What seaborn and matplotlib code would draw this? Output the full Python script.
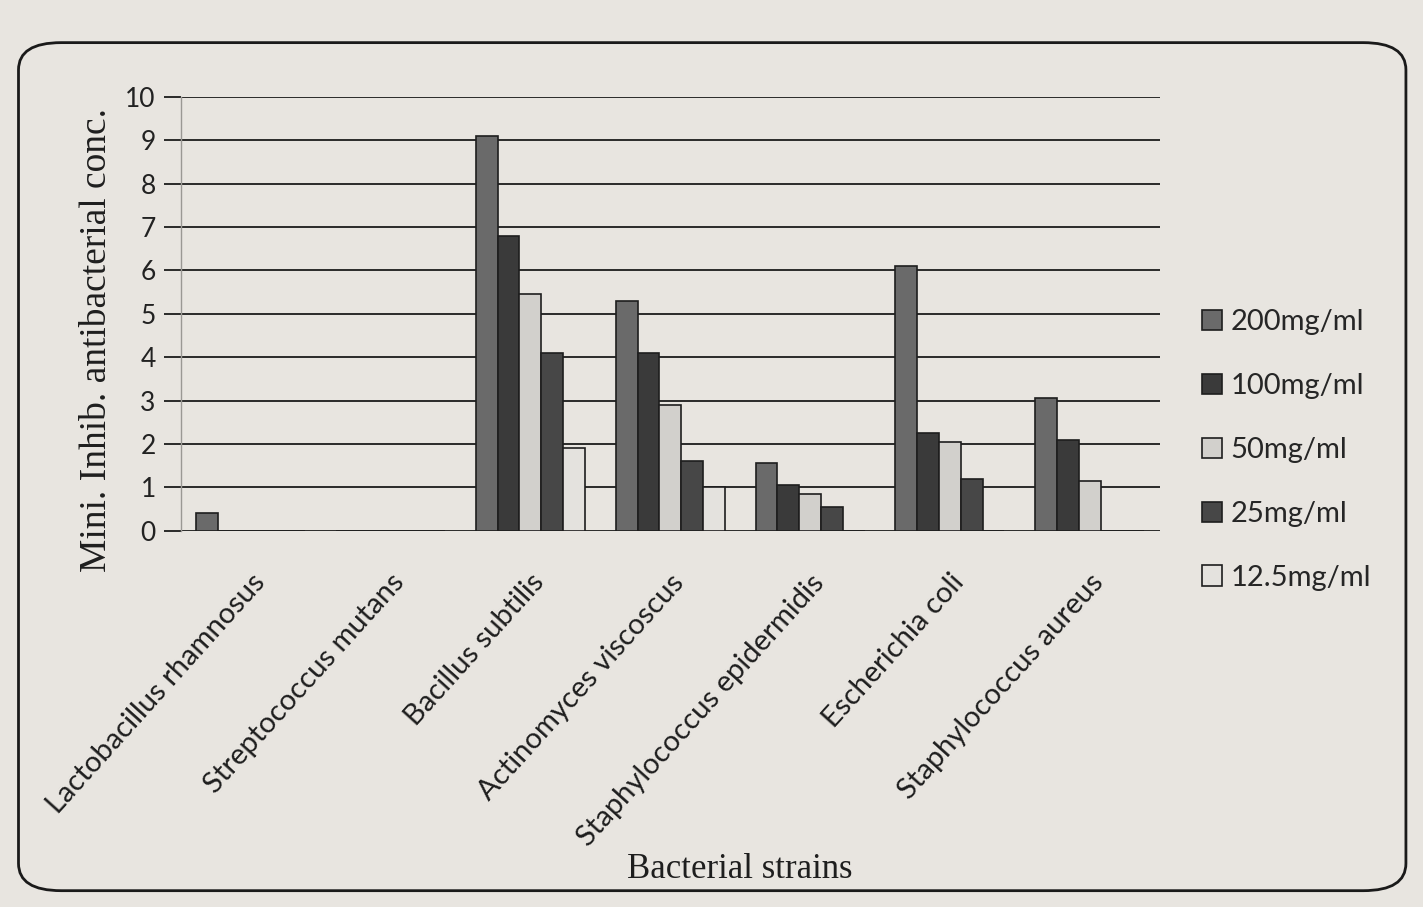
import matplotlib
matplotlib.use("Agg")
import matplotlib.pyplot as plt
from matplotlib.patches import FancyBboxPatch
import pandas as pd
import seaborn as sns

# Bacterial strains on the x axis
strains = [
    "Lactobacillus rhamnosus",
    "Streptococcus mutans",
    "Bacillus subtilis",
    "Actinomyces viscoscus",
    "Staphylococcus epidermidis",
    "Escherichia coli",
    "Staphylococcus aureus",
]

# Extract concentrations (legend entries)
concentrations = ["200mg/ml", "100mg/ml", "50mg/ml", "25mg/ml", "12.5mg/ml"]

# Minimum inhibitory antibacterial concentration per strain, one list per extract concentration
mic_200 = [0.4, 0.0, 9.1, 5.3, 1.55, 6.1, 3.05]
mic_100 = [0.0, 0.0, 6.8, 4.1, 1.05, 2.25, 2.1]
mic_50 = [0.0, 0.0, 5.45, 2.9, 0.85, 2.05, 1.15]
mic_25 = [0.0, 0.0, 4.1, 1.6, 0.55, 1.2, 0.0]
mic_12_5 = [0.0, 0.0, 1.9, 1.0, 0.0, 0.0, 0.0]

y_ticks = list(range(0, 11))

series = [mic_200, mic_100, mic_50, mic_25, mic_12_5]
df = pd.DataFrame(
    [
        {"strain": s, "conc": c, "value": v}
        for c, vals in zip(concentrations, series)
        for s, v in zip(strains, vals)
    ]
)

paper = "#e8e5e0"
bar_colors = ["#6a6a6a", "#3a3a3a", "#d2d0cc", "#474747", "#e4e2de"]

sns.set_theme(style="white")
plt.rcParams["font.family"] = ["Lato", "DejaVu Sans"]

fig = plt.figure(figsize=(14.23, 9.07), dpi=100, facecolor=paper)
ax = fig.add_axes([0.127, 0.415, 0.688, 0.478])
ax.set_facecolor(paper)

sns.barplot(
    data=df, x="strain", y="value", hue="conc",
    hue_order=concentrations, order=strains,
    palette=bar_colors, width=0.78, edgecolor="#1e1e1e", linewidth=1.2,
    saturation=1, errorbar=None, ax=ax,
)

ax.set_ylim(0, 10)
ax.set_yticks(y_ticks)
ax.set_yticklabels([str(t) for t in y_ticks], fontsize=19, color="#222222")
ax.yaxis.grid(True, color="#2a2a2a", linewidth=1.4)
ax.set_axisbelow(True)
ax.tick_params(axis="y", which="both", left=True, length=12, width=1.4,
               color="#2a2a2a", direction="out", pad=6)
ax.tick_params(axis="x", length=0, pad=28)

for side in ["top", "right", "bottom"]:
    ax.spines[side].set_visible(False)
ax.spines["left"].set_color("#9a9894")
ax.spines["left"].set_linewidth(1.0)

ax.set_xticks(range(len(strains)))
ax.set_xticklabels(strains, rotation=48, ha="right", rotation_mode="anchor",
                   fontsize=21, color="#1e1e1e")

ax.set_xlabel("")
fig.text(740 / 1423, 1 - 870 / 907, "Bacterial strains", fontsize=25,
         family=["Liberation Serif"], color="#1e1e1e", ha="center", va="center")
ax.set_ylabel("Mini. Inhib. antibacterial conc.", fontsize=27,
              family=["Liberation Serif"], color="#1e1e1e")
ax.yaxis.set_label_coords(-0.068, 0.44)

handles, labels = ax.get_legend_handles_labels()
ax.legend(
    handles, labels, loc="upper left", bbox_to_anchor=(0.826, 0.688),
    bbox_transform=fig.transFigure, frameon=False, fontsize=21,
    handlelength=0.7, handleheight=0.7, handletextpad=0.3, labelspacing=1.3,
)

# rounded frame around the whole chart
frame = FancyBboxPatch(
    (0.013, 0.018), 0.975, 0.935, transform=fig.transFigure,
    boxstyle="round,pad=0,rounding_size=0.03", fill=False,
    edgecolor="#1a1a1a", linewidth=2.0,
)
fig.patches.append(frame)

fig.savefig("out.png", dpi=100, facecolor=paper)
